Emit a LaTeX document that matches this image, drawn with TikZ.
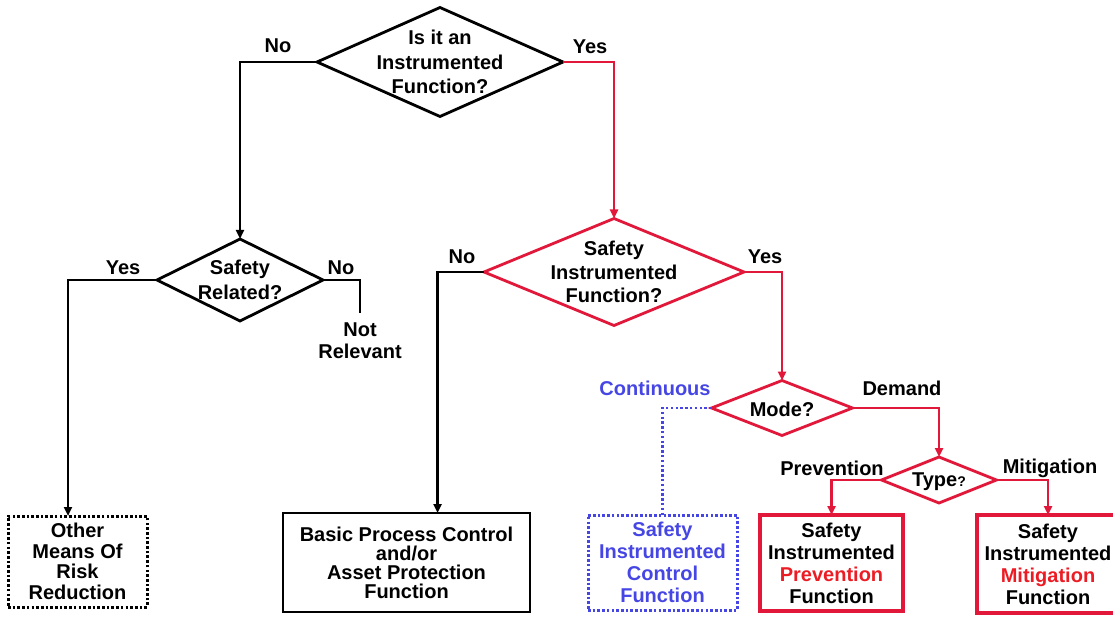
\documentclass[tikz,border=0pt]{standalone}
\usepackage{fontspec}
\setmainfont{Liberation Sans}
\usetikzlibrary{shapes.geometric,arrows.meta}

\definecolor{sisred}{RGB}{226,24,58}
\definecolor{txtred}{RGB}{236,28,36}
\definecolor{ctlblue}{RGB}{70,70,228}

\begin{document}
\begin{tikzpicture}[x=1pt,y=-1pt,
  every node/.style={font=\bfseries\fontsize{20}{23.5}\selectfont,
    align=center, inner sep=0pt, outer sep=0pt},
  dia/.style 2 args={draw, diamond, line width=2.8pt,
    minimum width=#1, minimum height=#2},
  box/.style 2 args={draw, rectangle, line width=2.9pt,
    minimum width=#1, minimum height=#2},
  dotbox/.style={dash pattern=on 2.6pt off 2.1pt, line width=3pt},
  blk/.style={line width=2.7pt, draw=black},
  red/.style={line width=2.9pt, draw=sisred},
  arr/.style={-{Triangle[length=9pt,width=8pt]}},
  lead/.style={font=\bfseries\fontsize{20}{#1}\selectfont}
]
\useasboundingbox (0,0) rectangle (1113,617);

% decision diamonds
\node[dia={246}{109}] (q1) at (440,62) {};
\node[lead=24.5] (q1t) at (440,62) {Is it an\\Instrumented\\Function?};

\node[dia={166}{82}] (q2) at (240,280) {};
\node[lead=25] (q2t) at (240,280) {Safety\\Related?};

\node[dia={260}{107}, draw=sisred] (q3) at (614,272) {};
\node[lead=23.5] (q3t) at (614,272) {Safety\\Instrumented\\Function?};

\node[dia={141}{55}, draw=sisred] (mode) at (782,408) {};
\node (modet) at (782,409) {Mode?};

\node[dia={115}{46}, draw=sisred] (type) at (939,480) {};
\node (typet) at (939,482) {Type{\fontsize{14}{14}\selectfont ?}};

% outcome boxes
\node[box={139}{91}, dotbox, lead=20.5] (other) at (77.5,561.5)
  {Other\\Means Of\\Risk\\Reduction};
\node[box={247}{99}, lead=19] (bpc) at (406.5,562.5)
  {Basic Process Control\\and/or\\Asset Protection\\Function};
\node[box={149}{95}, dotbox, draw=ctlblue, text=ctlblue, lead=22] (sicf) at (662.5,562.5)
  {Safety\\Instrumented\\Control\\Function};
\node[box={143}{96}, draw=sisred, line width=3.1pt, lead=22] (prev) at (831.5,563)
  {Safety\\Instrumented\\{\color{txtred}Prevention}\\Function};
\node[box={142}{98}, draw=sisred, line width=3.1pt, lead=22] (mitig) at (1048,564)
  {Safety\\Instrumented\\{\color{txtred}Mitigation}\\Function};

% branch labels
\node (lq1no) at (278,46) {No};
\node (lq1yes) at (590,47) {Yes};
\node (lq2yes) at (123,268) {Yes};
\node (lq2no) at (341,268) {No};
\node (lq3no) at (462,257) {No};
\node (lq3yes) at (765,257) {Yes};
\node[text=ctlblue] (lcont) at (655,388) {Continuous};
\node (ldem) at (902,388) {Demand};
\node (lprev) at (832,468) {Prevention};
\node (lmit) at (1050,468) {Mitigation};

% not relevant branch end
\coordinate (nrend) at (360,313);
\node[lead=22] (nrt) at (360,341) {Not\\Relevant};

% connectors
\draw[blk, arr] (q1.west) -| (q2.north);
\draw[red, arr] (q1.east) -| (q3.north);
\draw[blk, arr] (q2.west) -| ([xshift=-9.5pt]other.north);
\draw[blk] (q2.east) -| (nrend);
\draw[blk, arr] (q3.west) -| ([xshift=31pt]bpc.north);
\draw[red, arr] (q3.east) -| (mode.north);
\draw[draw=ctlblue, line width=2.8pt, dash pattern=on 2.4pt off 2.4pt] (mode.west) -| (sicf.north);
\draw[red, arr] (mode.east) -| (type.north);
\draw[red, arr] (type.west) -| (prev.north);
\draw[red, arr] (type.east) -| (mitig.north);
\end{tikzpicture}
\end{document}
